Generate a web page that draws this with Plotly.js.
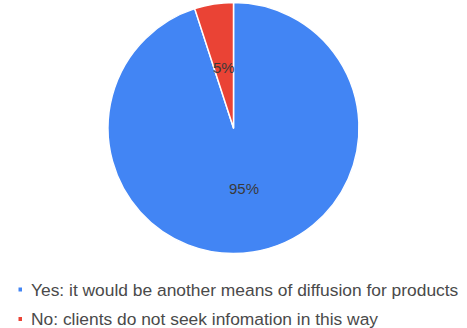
<!DOCTYPE html>
<html>
<head>
<meta charset="utf-8">
<script src="https://cdn.plot.ly/plotly-3.0.1.min.js"></script>
<style>
  html, body { margin: 0; padding: 0; background: #ffffff; }
  #chart { width: 467px; height: 328px; }
</style>
</head>
<body>
<div id="chart"></div>
<script>
// Survey answers and their shares
const labels = [
  'Yes: it would be another means of diffusion for products',
  'No: clients do not seek infomation in this way'
];
const values = [95, 5];
const sliceColors = ['#4285f4', '#ea4335'];

const W = 467, H = 328;
// pie geometry in pixels
const cx = 234, cy = 128, R = 125.5;
const FONT = '"Liberation Sans", Arial, sans-serif';

const total = values.reduce((a, b) => a + b, 0);

// percentage labels placed along each slice's mid-angle (clockwise from 12 o'clock)
const annotations = [];
let start = 0;
values.forEach((v, i) => {
  const mid = (start + v / 2) / total * 2 * Math.PI;
  start += v;
  const r = 0.49 * R;
  const px = cx + Math.sin(mid) * r;
  const py = cy - Math.cos(mid) * r;
  annotations.push({
    xref: 'paper', yref: 'paper',
    x: px / W, y: 1 - py / H,
    xanchor: 'center', yanchor: 'middle',
    text: Math.round(v / total * 100) + '%',
    showarrow: false,
    font: { family: FONT, size: 15, color: '#3a3a3a' }
  });
});

// legend rows below the pie
const legendX = 29, legendY0 = 289.5, legendStep = 29.5;
const shapes = [];
labels.forEach((lab, i) => {
  const y = legendY0 + i * legendStep;
  shapes.push({
    type: 'rect', xref: 'paper', yref: 'paper',
    x0: 18.5 / W, x1: 22 / W,
    y0: 1 - (y + 2) / H, y1: 1 - (y - 2) / H,
    fillcolor: sliceColors[i], line: { width: 0 }
  });
  annotations.push({
    xref: 'paper', yref: 'paper',
    x: legendX / W, y: 1 - y / H,
    xanchor: 'left', yanchor: 'middle',
    text: lab, showarrow: false,
    font: { family: FONT, size: 17.4, color: '#4a4a4a' }
  });
});

const trace = {
  type: 'pie',
  labels: labels,
  values: values,
  sort: false,
  direction: 'clockwise',
  rotation: 0,
  marker: { colors: sliceColors, line: { color: '#ffffff', width: 1.5 } },
  textinfo: 'none',
  hoverinfo: 'label+percent',
  domain: { x: [0, 1], y: [1 - (cy + R) / H, 1 - (cy - R) / H] }
};

const layout = {
  width: W, height: H,
  margin: { l: 0, r: 0, t: 0, b: 0 },
  paper_bgcolor: '#ffffff',
  showlegend: false,
  annotations: annotations,
  shapes: shapes
};

Plotly.newPlot('chart', [trace], layout, { displayModeBar: false, staticPlot: true });
</script>
</body>
</html>
